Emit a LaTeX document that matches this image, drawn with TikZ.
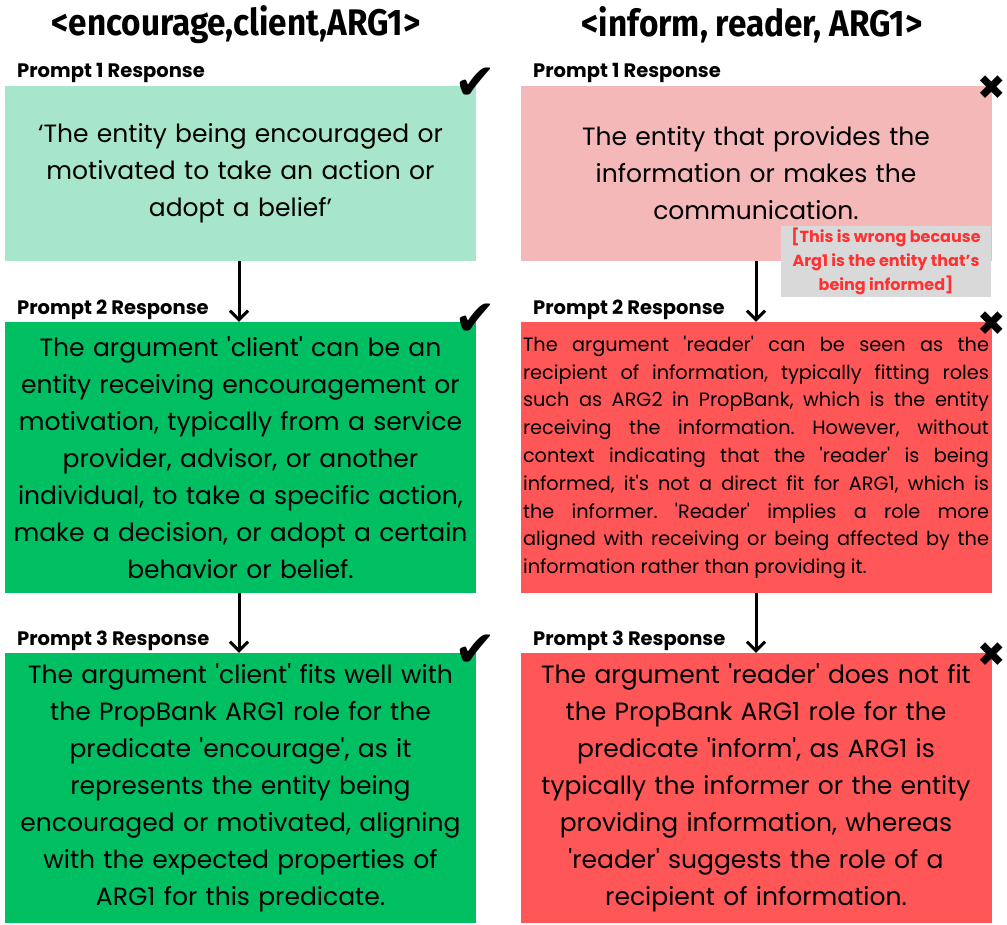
\documentclass[tikz,border=0pt]{standalone}
\usepackage{fontspec}
\setmainfont{Poppins}[Ligatures=TeXOff]
\newfontfamily\headfont{Fira Sans}[FakeStretch=0.9]
\newfontfamily\symfont{DejaVu Sans}
\usetikzlibrary{arrows.meta}

\definecolor{okpale}{HTML}{A8E6CB}
\definecolor{okgreen}{HTML}{00BF63}
\definecolor{badpale}{HTML}{F5B8B8}
\definecolor{badred}{HTML}{FF5757}
\definecolor{notegray}{HTML}{D9D9D9}
\definecolor{notered}{HTML}{FF3131}

\hyphenpenalty=10000
\exhyphenpenalty=10000
\frenchspacing

\tikzset{
  box/.style={inner sep=0pt, minimum width=471pt, text width=466pt, align=center,
    font=\fontsize{25}{37}\selectfont},
  tag/.style={anchor=west, inner sep=0pt, font=\bfseries\fontsize{19.5}{22}\selectfont},
  head/.style={inner sep=0pt, font=\headfont\bfseries\fontsize{37}{40}\selectfont},
  flow/.style={line width=3pt, -{Straight Barb[length=9pt,width=18pt,line width=3pt]}},
  yes/.style={inner sep=0pt, font=\symfont\fontsize{50}{50}\selectfont},
  no/.style={inner sep=0pt, font=\symfont\fontsize{34}{34}\selectfont}
}

\begin{document}
\begin{tikzpicture}[x=1pt,y=-1pt]
\useasboundingbox (0,0) rectangle (1007,925);

% Column headers
\node[head] (hl) at (236,25) {<encourage,client,ARG1>};
\node[head] (hr) at (752,25) {<inform, reader, ARG1>};

% Left column: encourage
\node[tag] (t1l) at (17,73) {Prompt 1 Response};
\node[box, fill=okpale, minimum height=175pt] (p1l) at (240.5,173.5)
  {‘The entity being encouraged or\\motivated to take an action or\\adopt a belief’};
\node[tag] (t2l) at (17,310) {Prompt 2 Response};
\node[box, fill=okgreen, minimum height=271pt] (p2l) at (240.5,457.5)
  {The argument 'client' can be an\\entity receiving encouragement or\\motivation, typically from a service\\provider, advisor, or another\\individual, to take a specific action,\\make a decision, or adopt a certain\\behavior or belief.};
\node[tag] (t3l) at (17,641) {Prompt 3 Response};
\node[box, fill=okgreen, minimum height=270pt] (p3l) at (240.5,788)
  {The argument 'client' fits well with\\the PropBank ARG1 role for the\\predicate 'encourage', as it\\represents the entity being\\encouraged or motivated, aligning\\with the expected properties of\\ARG1 for this predicate.};

% Right column: inform
\node[tag] (t1r) at (533,73) {Prompt 1 Response};
\node[box, fill=badpale, minimum height=175pt] (p1r) at (756,173.5)
  {The entity that provides the\\information or makes the\\communication.};
\node[tag] (t2r) at (533,310) {Prompt 2 Response};
\node[box, fill=badred, minimum height=271pt, align=justify,
  font=\fontsize{19.3}{27.8}\selectfont] (p2r) at (756,457.5)
  {The argument 'reader' can be seen as the\linebreak recipient of information, typically fitting roles\linebreak such as ARG2 in PropBank, which is the entity\linebreak receiving the information. However, without\linebreak context indicating that the 'reader' is being\linebreak informed, it's not a direct fit for ARG1, which is\linebreak the informer. 'Reader' implies a role more\linebreak aligned with receiving or being affected by the\linebreak information rather than providing it.};
\node[tag] (t3r) at (533,641) {Prompt 3 Response};
\node[box, fill=badred, minimum height=270pt] (p3r) at (756,788)
  {The argument 'reader' does not fit\\the PropBank ARG1 role for the\\predicate 'inform', as ARG1 is\\typically the informer or the entity\\providing information, whereas\\'reader' suggests the role of a\\recipient of information.};

% Correction note
\node[fill=notegray, text=notered, minimum width=210pt, minimum height=71pt, inner sep=0pt,
  align=center, font=\bfseries\fontsize{16}{24}\selectfont] (note) at (886,261.5)
  {[This is wrong because\\Arg1 is the entity that’s\\being informed]};

% Flow arrows
\draw[flow] (p1l.south -| 239,0) -- (p2l.north -| 239,0);
\draw[flow] (p2l.south -| 239,0) -- (p3l.north -| 239,0);
\draw[flow] (p1r.south -| 756,0) -- (p2r.north -| 756,0);
\draw[flow] (p2r.south -| 756,0) -- (p3r.north -| 756,0);

% Verdict marks
\node[yes] (c1) at ([xshift=-1pt,yshift=2pt]p1l.north east) {✔};
\node[yes] (c2) at ([xshift=-1pt,yshift=2pt]p2l.north east) {✔};
\node[yes] (c3) at ([xshift=-1pt,yshift=2pt]p3l.north east) {✔};
\node[no] (x1) at ([yshift=-2pt]p1r.north east) {✖};
\node[no] (x2) at ([yshift=-2pt]p2r.north east) {✖};
\node[no] (x3) at ([yshift=-2pt]p3r.north east) {✖};
\end{tikzpicture}
\end{document}
